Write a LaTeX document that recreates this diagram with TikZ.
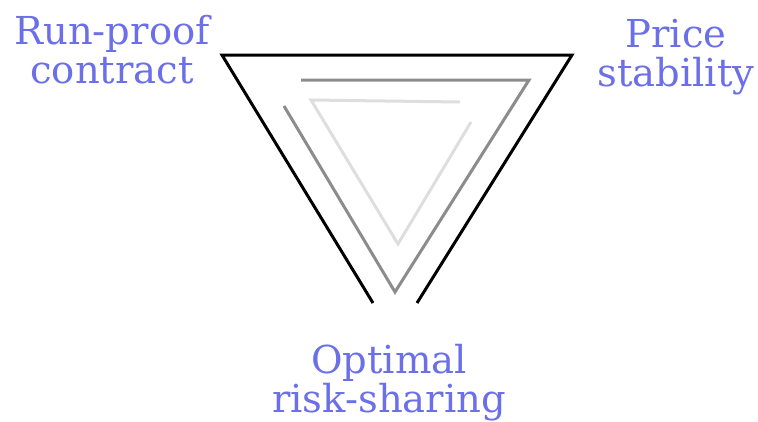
\documentclass[tikz,border=0pt]{standalone}
\usepackage{fontspec}
\setmainfont{DejaVu Serif}
\definecolor{labelblue}{RGB}{108,112,232}
\tikzset{
  corner/.style={font=\fontsize{38.5}{39}\selectfont, text=labelblue, align=center, anchor=base, inner sep=0pt},
  outerline/.style={line width=3pt, draw=black},
  midline/.style={line width=3pt, draw=black!45},
  innerline/.style={line width=3pt, draw=black!13},
}
\begin{document}
\begin{tikzpicture}[x=1pt, y=-1pt]
  \useasboundingbox (0,0) rectangle (758,421);
  % labels
  \node[corner] (run) at (112,83) {Run-proof\\contract};
  \node[corner] (price) at (676,86) {Price\\stability};
  \node[corner] (risk) at (389,412) {Optimal\\risk-sharing};
  % outer
  \coordinate (o1) at (373,303);
  \coordinate (o2) at (222,55);
  \coordinate (o3) at (572,55);
  \coordinate (o4) at (417,303);
  \draw[outerline] (o1) -- (o2) -- (o3) -- (o4);
  % middle
  \coordinate (m1) at (301,80);
  \coordinate (m2) at (529,80);
  \coordinate (m3) at (395,292);
  \coordinate (m4) at (284,106);
  \draw[midline] (m1) -- (m2) -- (m3) -- (m4);
  % inner
  \coordinate (i1) at (460,102);
  \coordinate (i2) at (311,100);
  \coordinate (i3) at (398,244);
  \coordinate (i4) at (471,122);
  \draw[innerline] (i1) -- (i2) -- (i3) -- (i4);
\end{tikzpicture}
\end{document}
